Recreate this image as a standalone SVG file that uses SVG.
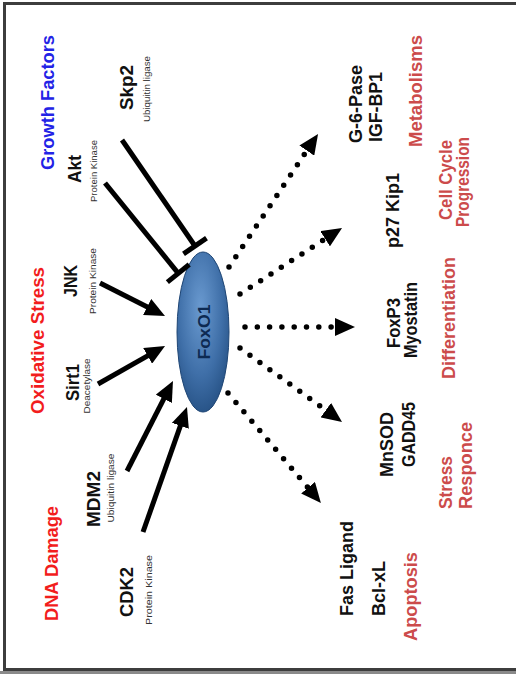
<svg xmlns="http://www.w3.org/2000/svg" width="516" height="674" viewBox="0 0 516 674">
  <style>
    text { font-family: "Liberation Sans", Arial, sans-serif; text-anchor: middle; }
    .lbl { font-weight: bold; font-size: 18px; fill: #111; }
    .sub { font-size: 9.5px; fill: #333; }
    .cat-red { font-weight: bold; font-size: 18px; fill: #f21d1d; }
    .cat-blue { font-weight: bold; font-size: 18px; fill: #2323e6; }
    .out { font-weight: bold; font-size: 18px; fill: #cc4b4b; }
    .act { stroke: #000; stroke-width: 5; fill: none; marker-end: url(#head); }
    .inh { stroke: #000; stroke-width: 5; fill: none; }
    .dot { stroke: #000; stroke-width: 5.5; stroke-linecap: round; stroke-dasharray: 0 12.3; fill: none; }
    .head { fill: none; stroke: none; marker-end: url(#head); }
  </style>
  <defs>
    <marker id="head" markerUnits="userSpaceOnUse" viewBox="0 0 20 18" markerWidth="20" markerHeight="18" refX="8" refY="9" orient="auto">
      <path d="M0,0 L20,9 L0,18 z" fill="#000"/>
    </marker>
    <radialGradient id="foxGrad" cx="0.45" cy="0.35" r="0.7">
      <stop offset="0" stop-color="#6a9ad0"/>
      <stop offset="0.6" stop-color="#3f6fa8"/>
      <stop offset="1" stop-color="#244f82"/>
    </radialGradient>
  </defs>

  <!-- frame -->
  <rect x="0" y="0" width="516" height="674" fill="#fff"/>
  <rect x="4.5" y="3.5" width="520" height="666" fill="none" stroke="#3d3d3d" stroke-width="3"/>
  <rect x="0" y="671" width="516" height="3" fill="#8a8a8a"/>

  <!-- stimulus categories -->
  <g id="cat-growth">
    <text class="cat-blue" transform="translate(54,102.5) rotate(-90)" textLength="135" lengthAdjust="spacingAndGlyphs">Growth Factors</text>
  </g>
  <g id="cat-oxidative">
    <text class="cat-red" transform="translate(44,340.5) rotate(-90)" textLength="147" lengthAdjust="spacingAndGlyphs">Oxidative Stress</text>
  </g>
  <g id="cat-dna">
    <text class="cat-red" transform="translate(58,563.5) rotate(-90)" textLength="115" lengthAdjust="spacingAndGlyphs">DNA Damage</text>
  </g>

  <!-- upstream regulators -->
  <g id="skp2">
    <text class="lbl" transform="translate(133,87.5) rotate(-90)" textLength="45" lengthAdjust="spacingAndGlyphs">Skp2</text>
    <text class="sub" transform="translate(150,89) rotate(-90)" textLength="66" lengthAdjust="spacingAndGlyphs">Ubiquitin ligase</text>
  </g>
  <g id="akt">
    <text class="lbl" transform="translate(81,169) rotate(-90)" textLength="28" lengthAdjust="spacingAndGlyphs">Akt</text>
    <text class="sub" transform="translate(97,171) rotate(-90)" textLength="62" lengthAdjust="spacingAndGlyphs">Protein Kinase</text>
  </g>
  <g id="jnk">
    <text class="lbl" transform="translate(77,281) rotate(-90)" textLength="32" lengthAdjust="spacingAndGlyphs">JNK</text>
    <text class="sub" transform="translate(96,281) rotate(-90)" textLength="66" lengthAdjust="spacingAndGlyphs">Protein Kinase</text>
  </g>
  <g id="sirt1">
    <text class="lbl" transform="translate(79,382.5) rotate(-90)" textLength="37" lengthAdjust="spacingAndGlyphs">Sirt1</text>
    <text class="sub" transform="translate(90,386) rotate(-90)" textLength="55" lengthAdjust="spacingAndGlyphs">Deacetylase</text>
  </g>
  <g id="mdm2">
    <text class="lbl" transform="translate(100,499) rotate(-90)" textLength="56" lengthAdjust="spacingAndGlyphs">MDM2</text>
    <text class="sub" transform="translate(114,488) rotate(-90)" textLength="69" lengthAdjust="spacingAndGlyphs">Ubiquitin ligase</text>
  </g>
  <g id="cdk2">
    <text class="lbl" transform="translate(133,592) rotate(-90)" textLength="50" lengthAdjust="spacingAndGlyphs">CDK2</text>
    <text class="sub" transform="translate(152,590) rotate(-90)" textLength="70" lengthAdjust="spacingAndGlyphs">Protein Kinase</text>
  </g>

  <!-- central transcription factor -->
  <g id="foxo1">
    <ellipse cx="203" cy="332" rx="26" ry="80" fill="url(#foxGrad)" stroke="#1f4675" stroke-width="1"/>
    <text class="lbl" transform="translate(209.5,332) rotate(-90)" style="fill:#0d2a52;font-size:17px" textLength="55" lengthAdjust="spacingAndGlyphs">FoxO1</text>
  </g>

  <!-- target genes and outcomes -->
  <g id="out-metabolism">
    <text class="lbl" transform="translate(362,104) rotate(-90)" textLength="78" lengthAdjust="spacingAndGlyphs">G-6-Pase</text>
    <text class="lbl" transform="translate(382,107) rotate(-90)" textLength="70" lengthAdjust="spacingAndGlyphs">IGF-BP1</text>
    <text class="out" transform="translate(422,91) rotate(-90)" textLength="112" lengthAdjust="spacingAndGlyphs">Metabolisms</text>
  </g>
  <g id="out-cellcycle">
    <text class="lbl" transform="translate(399,210.5) rotate(-90)" textLength="75" lengthAdjust="spacingAndGlyphs">p27 Kip1</text>
    <text class="out" transform="translate(452,180) rotate(-90)" textLength="80" lengthAdjust="spacingAndGlyphs">Cell Cycle</text>
    <text class="out" transform="translate(469,182) rotate(-90)" textLength="90" lengthAdjust="spacingAndGlyphs">Progression</text>
  </g>
  <g id="out-differentiation">
    <text class="lbl" transform="translate(400,323) rotate(-90)" textLength="50" lengthAdjust="spacingAndGlyphs">FoxP3</text>
    <text class="lbl" transform="translate(417,320) rotate(-90)" textLength="76" lengthAdjust="spacingAndGlyphs">Myostatin</text>
    <text class="out" transform="translate(455,318) rotate(-90)" textLength="122" lengthAdjust="spacingAndGlyphs">Differentiation</text>
  </g>
  <g id="out-stress">
    <text class="lbl" transform="translate(393,444.5) rotate(-90)" textLength="65" lengthAdjust="spacingAndGlyphs">MnSOD</text>
    <text class="lbl" transform="translate(415,434.5) rotate(-90)" textLength="65" lengthAdjust="spacingAndGlyphs">GADD45</text>
    <text class="out" transform="translate(452,482.5) rotate(-90)" textLength="53" lengthAdjust="spacingAndGlyphs">Stress</text>
    <text class="out" transform="translate(472,465.5) rotate(-90)" textLength="87" lengthAdjust="spacingAndGlyphs">Responce</text>
  </g>
  <g id="out-apoptosis">
    <text class="lbl" transform="translate(353,568.5) rotate(-90)" textLength="95" lengthAdjust="spacingAndGlyphs">Fas Ligand</text>
    <text class="lbl" transform="translate(385,588.5) rotate(-90)" textLength="55" lengthAdjust="spacingAndGlyphs">Bcl-xL</text>
    <text class="out" transform="translate(417,596.5) rotate(-90)" textLength="89" lengthAdjust="spacingAndGlyphs">Apoptosis</text>
  </g>

  <!-- connectors -->
  <g id="connectors">
    <!-- inhibition (T-bar) -->
    <line class="inh" x1="122" y1="140" x2="195" y2="246"/>
    <line class="inh" x1="206.5" y1="238.1" x2="183.5" y2="253.9"/>
    <line class="inh" x1="105" y1="183" x2="178.3" y2="273.3"/>
    <line class="inh" x1="189.2" y1="264.5" x2="167.4" y2="282.1"/>
    <!-- activation (solid arrows) -->
    <line class="act" x1="100" y1="283" x2="154.3" y2="310.6"/>
    <line class="act" x1="98" y1="384" x2="154.6" y2="351.9"/>
    <line class="act" x1="127" y1="471" x2="167.5" y2="391.7"/>
    <line class="act" x1="143" y1="532" x2="183" y2="418.3"/>
    <!-- transcriptional targets (dotted arrows) -->
    <line class="dot" x1="229" y1="267" x2="311.3" y2="144"/>
    <line class="head" x1="300" y1="160.6" x2="311.3" y2="144"/>
    <line class="dot" x1="240" y1="294" x2="331.9" y2="234.5"/>
    <line class="head" x1="320" y1="242" x2="331.9" y2="234.5"/>
    <line class="dot" x1="245" y1="327" x2="343" y2="327"/>
    <line class="head" x1="330" y1="327" x2="343" y2="327"/>
    <line class="dot" x1="240" y1="348" x2="332.3" y2="414.9"/>
    <line class="head" x1="320" y1="406" x2="332.3" y2="414.9"/>
    <line class="dot" x1="228" y1="393" x2="313.2" y2="493.8"/>
    <line class="head" x1="305" y1="484" x2="313.2" y2="493.8"/>
  </g>
</svg>
